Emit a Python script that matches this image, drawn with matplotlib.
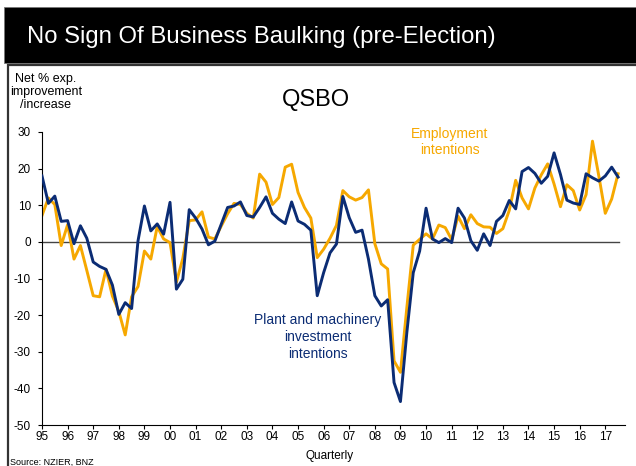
import numpy as np
import matplotlib
matplotlib.use('Agg')
import matplotlib.pyplot as plt
from matplotlib.patches import Rectangle

plt.rcParams['font.family'] = ['Liberation Sans', 'DejaVu Sans']
plt.rcParams['axes.unicode_minus'] = False

# QSBO net % expecting improvement / increase, quarterly from 1995 Q1
start_year = 1995
plant_machinery = [
    18, 10.5, 12.5, 5.6, 5.8, -0.5, 4.4, 1, -5.5, -6.7,
    -7.5, -11.8, -19.8, -16.6, -18.2, 0.3, 9.8, 3, 4.9, 2.1,
    10.8, -12.9, -10.2, 8.8, 6.5, 3.5, -0.8, 0.2, 4.8, 9.4,
    9.8, 10.9, 7.2, 6.8, 9.4, 12.3, 7.8, 6.2, 5, 10.9,
    5.7, 4.8, 3.2, -14.7, -8.4, -3, -0.6, 12.4, 6.6, 2.6,
    3.2, -4.7, -14.7, -17.5, -15.8, -38.4, -43.6, -24.7, -8.4, -2.5,
    9.2, 0.8, -0.2, 0.9, -0.2, 9.2, 6.5, 0.3, -2.3, 2.2,
    -1, 5.6, 7.2, 11.3, 9, 19.2, 20.3, 18.7, 16, 17.9,
    24.3, 18.4, 11.4, 10.6, 10.2, 18.6, 17.5, 16.6, 18, 20.4,
    17.7,
]
employment = [
    7.2, 12, 10.2, -1, 4.7, -4.7, -1, -7.8, -14.7, -15,
    -7.5, -14.8, -19, -25.4, -15, -12.2, -2.5, -4.7, 4.2, 0.8,
    -0.2, -11, -4.5, 5.8, 6, 8.2, 1.3, 0.8, 4.3, 7.7,
    10.5, 10.2, 7.8, 6.5, 18.5, 16.3, 10.2, 12.1, 20.4, 21.2,
    13.5, 9.4, 6.5, -4.3, -2, 1, 4.5, 14, 12.3, 11.4,
    12.1, 14.2, -0.5, -6, -7.4, -32.5, -35.6, -17.9, -0.9, 0.7,
    2.2, 0.8, 4.6, 3.9, 0.6, 7, 3.6, 7.4, 5, 4.1,
    4, 2.3, 3.6, 8.6, 16.8, 12, 9, 14.7, 18.3, 21.3,
    15.8, 9.6, 15.6, 14, 8.7, 12.9, 27.5, 17.9, 7.8, 11.7,
    18.6,
]
year_ticks = list(range(1995, 2018))
year_labels = ['%02d' % (y % 100) for y in year_ticks]

navy = '#0b2c74'
amber = '#f6a800'

t = start_year + np.arange(len(plant_machinery)) / 4.0

fig = plt.figure(figsize=(6.36, 4.66), dpi=100)
W, H = 636.0, 466.0

# black header band and the thin frame round the chart
fig.patches.append(Rectangle((4 / W, 1 - 63 / H), 1.0, 56 / H, transform=fig.transFigure,
                             facecolor='black', edgecolor='#777777', lw=0.6, zorder=0))
fig.patches.append(Rectangle((7.5 / W, -0.05), 1.0, 1 - 65 / H + 0.05, transform=fig.transFigure,
                             facecolor='none', edgecolor='#333333', lw=1.6, zorder=0))
fig.text(27 / W, 1 - 37 / H, 'No Sign Of Business Baulking (pre-Election)', color='white',
         fontsize=17.2, va='center', ha='left')

ax = fig.add_axes([42 / W, 1 - 425 / H, (625 - 42) / W, (425 - 132) / H])
ax.patch.set_alpha(0)

ax.axhline(0, xmin=0, xmax=(2017.55 - 1995) / (2017.77 - 1995), color='#444444', lw=1.0, zorder=1)
ax.plot(t, employment, color=amber, lw=2.1, zorder=2)
ax.plot(t, plant_machinery, color=navy, lw=2.1, zorder=3)

ax.set_xlim(1995, 2017.77)
ax.set_ylim(-50, 30)
ax.set_yticks(np.arange(-50, 31, 10))
ax.set_xticks(year_ticks)
ax.set_xticklabels(year_labels)
ax.tick_params(axis='both', direction='out', length=3, width=0.8, labelsize=8.5, colors='black')
ax.tick_params(axis='x', pad=1.5)
ax.tick_params(axis='y', pad=5)
for side in ['top', 'right']:
    ax.spines[side].set_visible(False)
for side in ['left', 'bottom']:
    ax.spines[side].set_linewidth(0.8)

fig.text(316 / W, 1 - 100 / H, 'QSBO', fontsize=17, ha='center', va='center')
fig.text(46 / W, 1 - 92 / H, 'Net % exp.\nimprovement\n/increase', fontsize=9, ha='center',
         va='center', linespacing=1.12)
fig.text(450 / W, 1 - 142 / H, 'Employment\nintentions', color=amber, fontsize=10,
         ha='center', va='center', linespacing=1.25)
fig.text(318 / W, 1 - 337 / H, 'Plant and machinery\ninvestment\nintentions', color=navy,
         fontsize=10, ha='center', va='center', linespacing=1.25)
fig.text(330 / W, 1 - 456 / H, 'Quarterly', fontsize=8.5, ha='center', va='center')
fig.text(10 / W, 1 - 462 / H, 'Source: NZIER, BNZ', fontsize=6.5, ha='left', va='center')

fig.savefig('out.png', dpi=100)
